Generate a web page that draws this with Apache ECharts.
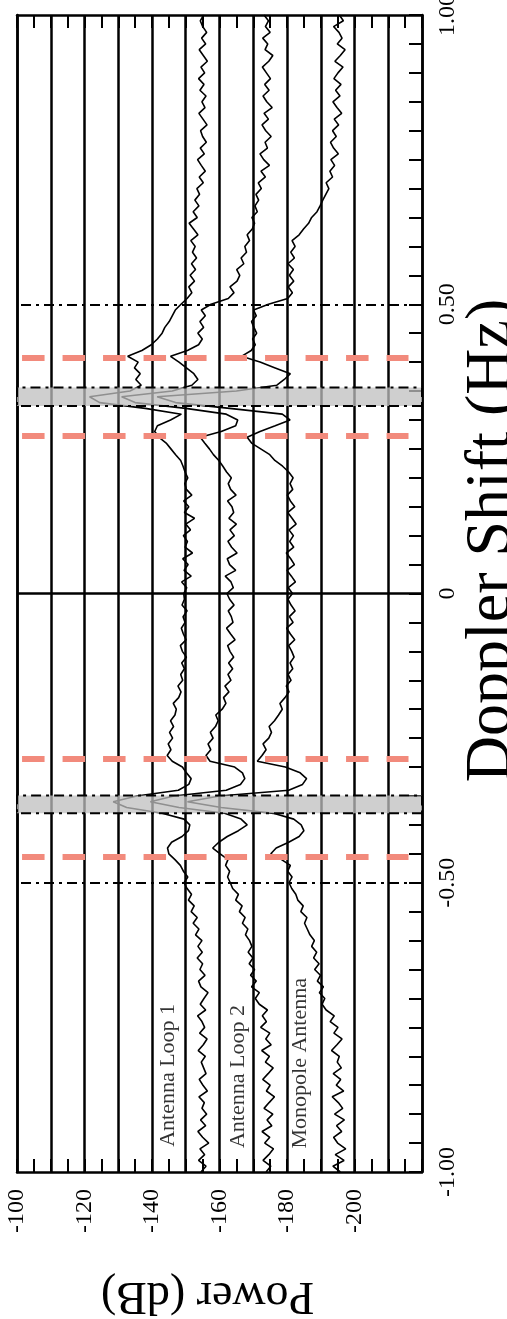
<!DOCTYPE html>
<html><head><meta charset="utf-8">
<script src="https://cdn.jsdelivr.net/npm/echarts@6/dist/echarts.min.js"></script>
<style>html,body{margin:0;padding:0;background:#fff}#c{width:507px;height:1319px}</style>
</head><body><div id="c"></div>
<script>
// Doppler shift (Hz), from -1.00 to 1.00
const doppler = [
-1.00,-0.99,-0.98,-0.97,-0.96,-0.95,-0.94,-0.93,-0.92,-0.91,
-0.90,-0.89,-0.88,-0.87,-0.86,-0.85,-0.84,-0.83,-0.82,-0.81,
-0.80,-0.79,-0.78,-0.77,-0.76,-0.75,-0.74,-0.73,-0.72,-0.71,
-0.70,-0.69,-0.68,-0.67,-0.66,-0.65,-0.64,-0.63,-0.62,-0.61,
-0.60,-0.59,-0.58,-0.57,-0.56,-0.55,-0.54,-0.53,-0.52,-0.51,
-0.50,-0.49,-0.48,-0.47,-0.46,-0.45,-0.44,-0.43,-0.42,-0.41,
-0.40,-0.39,-0.38,-0.37,-0.36,-0.35,-0.34,-0.33,-0.32,-0.31,
-0.30,-0.29,-0.28,-0.27,-0.26,-0.25,-0.24,-0.23,-0.22,-0.21,
-0.20,-0.19,-0.18,-0.17,-0.16,-0.15,-0.14,-0.13,-0.12,-0.11,
-0.10,-0.09,-0.08,-0.07,-0.06,-0.05,-0.04,-0.03,-0.02,-0.01,
0.00,0.01,0.02,0.03,0.04,0.05,0.06,0.07,0.08,0.09,
0.10,0.11,0.12,0.13,0.14,0.15,0.16,0.17,0.18,0.19,
0.20,0.21,0.22,0.23,0.24,0.25,0.26,0.27,0.28,0.29,
0.30,0.31,0.32,0.33,0.34,0.35,0.36,0.37,0.38,0.39,
0.40,0.41,0.42,0.43,0.44,0.45,0.46,0.47,0.48,0.49,
0.50,0.51,0.52,0.53,0.54,0.55,0.56,0.57,0.58,0.59,
0.60,0.61,0.62,0.63,0.64,0.65,0.66,0.67,0.68,0.69,
0.70,0.71,0.72,0.73,0.74,0.75,0.76,0.77,0.78,0.79,
0.80,0.81,0.82,0.83,0.84,0.85,0.86,0.87,0.88,0.89,
0.90,0.91,0.92,0.93,0.94,0.95,0.96,0.97,0.98,0.99,
1.00];

// Power (dB) per Doppler bin
const loop1 = [
-154.5,-156.0,-153.8,-155.6,-154.2,-156.8,-155.0,-153.6,-155.9,-154.4,
-156.2,-154.8,-155.5,-153.9,-156.4,-155.1,-154.0,-156.0,-155.3,-154.6,
-155.8,-153.7,-155.2,-156.3,-154.1,-155.6,-154.8,-153.5,-155.9,-154.3,
-155.4,-156.6,-154.5,-153.8,-155.7,-154.2,-155.0,-153.4,-154.9,-153.6,
-154.8,-152.9,-153.9,-152.2,-153.4,-151.6,-152.5,-150.8,-151.7,-150.4,
-149.5,-150.6,-149.3,-148.4,-146.8,-145.0,-144.6,-145.8,-148.9,-150.8,
-151.2,-149.5,-143.0,-132.5,-128.5,-135.5,-147.8,-150.9,-151.6,-150.2,
-149.0,-146.0,-144.5,-145.6,-144.8,-146.1,-145.2,-146.4,-145.5,-146.8,
-147.2,-146.3,-147.9,-148.6,-147.7,-149.1,-148.5,-149.6,-148.8,-150.2,
-149.0,-148.4,-150.1,-149.3,-148.7,-149.8,-149.2,-150.4,-148.9,-149.6,
-149.4,-150.3,-148.8,-151.6,-149.5,-150.7,-149.1,-152.0,-149.8,-150.5,
-149.3,-151.4,-150.0,-152.6,-149.6,-150.9,-149.4,-151.8,-150.2,-149.7,
-150.6,-149.8,-149.2,-148.5,-147.0,-145.6,-144.2,-142.1,-140.8,-141.6,
-145.5,-148.7,-138.0,-124.5,-121.5,-133.5,-136.8,-135.2,-136.5,-134.8,
-135.9,-132.8,-137.0,-139.8,-141.6,-143.0,-143.8,-145.1,-146.0,-146.9,
-148.6,-150.4,-151.8,-150.9,-152.6,-151.3,-152.9,-151.7,-153.2,-152.0,
-152.8,-151.5,-153.6,-152.3,-151.0,-153.4,-152.2,-153.9,-152.7,-154.1,
-153.3,-155.2,-154.0,-155.8,-154.6,-153.5,-155.5,-154.3,-156.1,-155.0,
-154.4,-156.3,-155.1,-153.9,-155.7,-154.8,-156.0,-154.2,-155.4,-153.8,
-155.6,-154.5,-156.4,-155.2,-154.0,-155.9,-154.7,-156.2,-155.0,-154.3,
-155.3];

const loop2 = [
-173.8,-175.2,-172.9,-174.6,-176.0,-173.4,-174.9,-172.6,-175.5,-174.1,
-175.8,-173.2,-174.7,-176.3,-173.9,-175.0,-172.8,-174.4,-175.9,-173.6,
-174.8,-172.5,-175.3,-173.7,-174.9,-172.2,-173.9,-172.7,-174.2,-171.8,
-170.6,-171.8,-169.5,-170.9,-169.2,-170.4,-168.8,-169.9,-168.5,-169.6,
-168.9,-167.7,-168.4,-166.8,-167.6,-165.9,-166.7,-164.8,-165.6,-163.9,
-163.2,-162.4,-163.0,-161.8,-162.5,-160.2,-158.0,-159.8,-162.3,-165.6,
-168.2,-166.4,-161.5,-148.0,-139.5,-146.5,-162.0,-166.2,-167.5,-166.8,
-164.5,-157.2,-156.0,-157.4,-156.6,-158.1,-157.3,-158.8,-159.6,-158.9,
-160.8,-161.9,-161.2,-162.8,-161.6,-163.4,-162.5,-163.9,-162.7,-164.2,
-163.1,-162.4,-164.6,-163.3,-162.1,-164.0,-163.5,-162.6,-164.3,-163.0,
-162.2,-164.1,-163.4,-161.7,-164.8,-163.0,-162.3,-165.2,-163.6,-162.5,
-164.4,-163.1,-165.0,-162.8,-164.2,-163.7,-162.4,-164.9,-163.3,-162.6,
-163.5,-162.1,-161.0,-159.8,-158.2,-157.0,-155.6,-154.3,-160.5,-164.8,
-165.4,-162.0,-150.0,-135.0,-131.0,-146.0,-151.8,-153.6,-152.4,-150.2,
-148.0,-145.5,-150.5,-153.8,-154.9,-153.6,-155.3,-154.2,-155.8,-154.6,
-157.5,-162.6,-164.3,-163.1,-165.2,-166.0,-165.1,-167.2,-166.4,-168.0,
-167.5,-168.9,-168.2,-169.7,-170.4,-169.6,-171.2,-170.5,-171.6,-170.8,
-172.4,-171.5,-173.6,-172.3,-174.8,-173.1,-172.0,-174.2,-173.5,-175.3,
-173.7,-172.6,-174.5,-173.2,-175.6,-174.0,-172.9,-174.7,-173.4,-175.1,
-173.9,-172.7,-174.6,-175.8,-173.5,-174.3,-172.8,-175.0,-173.6,-174.5,
-173.2];

const monopole = [
-195.8,-193.6,-196.9,-194.3,-197.4,-195.0,-193.8,-196.2,-194.7,-197.0,
-194.1,-196.5,-195.2,-193.4,-196.8,-194.6,-195.9,-193.7,-196.1,-194.9,
-195.5,-193.2,-194.8,-196.3,-193.9,-195.1,-192.8,-194.0,-191.6,-190.4,
-191.2,-189.6,-190.8,-189.0,-189.9,-188.2,-189.5,-187.9,-188.8,-187.3,
-188.1,-186.8,-186.0,-185.2,-185.9,-184.1,-184.8,-183.2,-182.6,-181.4,
-180.6,-181.5,-180.2,-181.0,-178.4,-175.2,-176.8,-180.5,-183.6,-185.0,
-184.2,-182.0,-176.0,-160.5,-150.5,-160.0,-180.5,-184.6,-185.8,-183.9,
-179.5,-171.2,-172.6,-173.8,-172.9,-174.6,-175.4,-174.7,-176.3,-177.5,
-178.6,-177.9,-179.4,-180.6,-179.8,-181.2,-180.3,-181.7,-180.9,-182.1,
-181.4,-180.5,-182.3,-181.0,-179.9,-181.8,-180.7,-182.4,-181.2,-180.3,
-181.6,-180.4,-182.5,-181.3,-180.0,-182.2,-181.1,-179.8,-182.0,-180.8,
-181.9,-180.6,-182.7,-181.5,-180.2,-182.3,-181.0,-180.1,-181.7,-180.9,
-181.8,-180.5,-178.7,-176.4,-174.9,-172.2,-169.5,-168.2,-172.0,-176.5,
-180.9,-178.6,-163.0,-147.0,-141.5,-165.0,-177.0,-179.2,-181.0,-176.5,
-172.0,-166.5,-169.4,-170.6,-169.8,-171.0,-170.2,-169.5,-170.9,-170.1,
-174.5,-180.2,-181.6,-180.4,-182.0,-180.7,-181.9,-180.3,-182.2,-181.1,
-182.4,-181.5,-183.6,-184.9,-186.4,-187.3,-188.9,-189.8,-190.6,-191.5,
-192.4,-191.6,-193.5,-192.7,-194.1,-193.0,-195.2,-193.8,-192.9,-194.6,
-193.5,-195.3,-194.0,-196.2,-194.8,-193.6,-195.7,-194.4,-196.0,-193.9,
-195.1,-196.6,-194.2,-195.8,-197.2,-194.9,-196.3,-195.4,-193.8,-196.7,
-195.5];

const seriesNames = ['Antenna Loop 1', 'Antenna Loop 2', 'Monopole Antenna'];
const powerTickLabels = [-100, -120, -140, -160, -180, -200];
const dopplerTickLabels = [-1, -0.5, 0, 0.5, 1];
const redMarkers = [0.408, 0.273, -0.285, -0.455];
const grayBands = [[0.324, 0.356], [-0.380, -0.349]];
const dashDotLines = [0.5, -0.5];

const serif = 'Liberation Serif';
const black = '#000';
function pts(vals) { return vals.map((p, i) => [p, doppler[i]]); }

const chart = echarts.init(document.getElementById('c'), null, {renderer: 'canvas'});

const tickStyle = {color: black, width: 2};
const option = {
  animation: false,
  backgroundColor: '#fff',
  textStyle: {fontFamily: serif},
  grid: {left: 17, right: 85, top: 15, bottom: 147, containLabel: false, outerBoundsMode: 'none'},
  xAxis: [{
    type: 'value', min: -220, max: -100, interval: 10, inverse: true, position: 'bottom',
    axisLine: {show: true, onZero: false, lineStyle: {color: black, width: 2.5}},
    axisTick: {show: true, inside: true, length: 13, lineStyle: tickStyle},
    minorTick: {show: true, splitNumber: 2, length: 13, lineStyle: tickStyle},
    splitLine: {show: true, lineStyle: {color: black, width: 2.5}},
    axisLabel: {rotate: 90, margin: 17, fontSize: 24, color: black, fontFamily: serif,
      showMinLabel: true, showMaxLabel: true,
      formatter: v => powerTickLabels.indexOf(v) >= 0 ? String(v) : ''},
    name: 'Power (dB)', nameLocation: 'middle', nameRotate: 180, nameGap: 100, nameMoveOverlap: false,
    nameTextStyle: {fontSize: 46, color: black, fontFamily: serif, padding: [0, 0, 0, 24]}
  }, {
    type: 'value', min: -220, max: -100, interval: 10, inverse: true, position: 'top',
    axisLine: {show: true, onZero: false, lineStyle: {color: black, width: 2.5}},
    axisTick: {show: true, inside: true, length: 13, lineStyle: tickStyle},
    minorTick: {show: true, splitNumber: 2, length: 13, lineStyle: tickStyle},
    splitLine: {show: false}, axisLabel: {show: false}
  }],
  yAxis: [{
    type: 'value', min: -1, max: 1, interval: 0.5, position: 'right',
    axisLine: {show: true, onZero: false, lineStyle: {color: black, width: 2.5}},
    axisTick: {show: true, inside: true, length: 13, lineStyle: tickStyle},
    minorTick: {show: true, splitNumber: 10, length: 13, lineStyle: tickStyle},
    splitLine: {show: false},
    axisLabel: {rotate: 90, margin: 14, fontSize: 24, color: black, fontFamily: serif,
      showMinLabel: true, showMaxLabel: true,
      formatter: v => dopplerTickLabels.indexOf(v) < 0 ? '' : (v === 0 ? '0' : v.toFixed(2))},
    name: 'Doppler Shift (Hz)', nameLocation: 'middle', nameRotate: 90, nameGap: 38, nameMoveOverlap: false,
    nameTextStyle: {fontSize: 64, color: black, fontFamily: serif, padding: [0, 0, 0, 106]}
  }, {
    type: 'value', min: -1, max: 1, interval: 0.5, position: 'left',
    axisLine: {show: true, onZero: false, lineStyle: {color: black, width: 2.5}},
    axisTick: {show: false}, axisLabel: {show: false}, splitLine: {show: false}
  }],
  series: [
    {
      name: seriesNames[0], type: 'line', data: pts(loop1), showSymbol: false, symbol: 'none',
      lineStyle: {color: black, width: 1.6}, z: 3,
      markArea: {
        silent: true, z: 10, label: {show: false},
        itemStyle: {color: 'rgba(191,191,191,0.75)', borderColor: black, borderWidth: 2, borderType: [10, 5, 3, 5]},
        data: grayBands.map(b => [{yAxis: b[0]}, {yAxis: b[1]}])
      },
      markLine: {
        silent: true, symbol: ['none', 'none'], label: {show: false}, z: 5,
        data: [
          {yAxis: 0, lineStyle: {color: black, width: 2.5, type: 'solid'}}
        ].concat(dashDotLines.map(v => ({yAxis: v, lineStyle: {color: black, width: 2, type: [10, 5, 3, 5]}})))
         .concat(redMarkers.map(v => [
            {xAxis: -101.5, yAxis: v, lineStyle: {color: '#f28a7c', width: 6, type: [22.5, 18]}},
            {xAxis: -216, yAxis: v}
         ]))
      }
    },
    {name: seriesNames[1], type: 'line', data: pts(loop2), showSymbol: false, symbol: 'none',
      lineStyle: {color: black, width: 1.6}, z: 3},
    {name: seriesNames[2], type: 'line', data: pts(monopole), showSymbol: false, symbol: 'none',
      lineStyle: {color: black, width: 1.6}, z: 3},
    {
      type: 'scatter', symbolSize: 1, itemStyle: {color: 'rgba(0,0,0,0)'}, z: 4, silent: true,
      label: {show: true, position: 'inside', rotate: 90, fontSize: 22, color: black, fontFamily: serif,
        formatter: p => p.name},
      data: [
        {name: seriesNames[0], value: [-144.7, -0.833]},
        {name: seriesNames[1], value: [-165.5, -0.835]},
        {name: seriesNames[2], value: [-183.9, -0.812]}
      ]
    }
  ]
};
chart.setOption(option);
</script>
</body></html>
